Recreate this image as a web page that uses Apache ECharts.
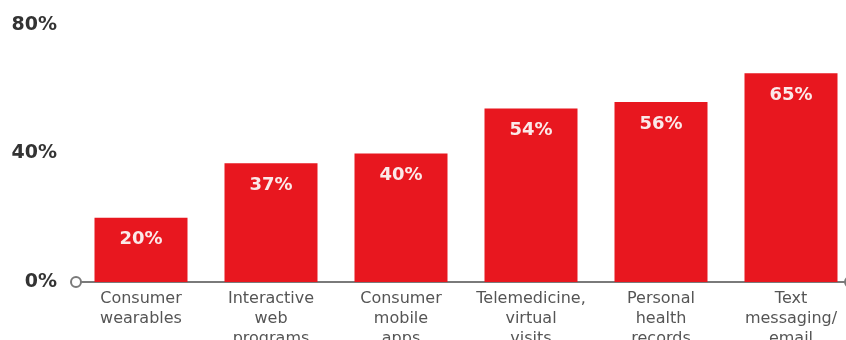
<!DOCTYPE html>
<html lang="en">
<head>
    <meta charset="UTF-8">
    <title>Chart</title>
    <script src="https://cdn.jsdelivr.net/npm/echarts@6/dist/echarts.min.js"></script>
    <style>
        body { margin: 0; background: #fff; }
    </style>
</head>
<body>
    <div id="main" style="width: 846px;height:340px;"></div>
    <script>
        let categories = ['Consumer\nwearables', 'Interactive\nweb\nprograms', 'Consumer\nmobile\napps',
            'Telemedicine,\nvirtual\nvisits', 'Personal\nhealth\nrecords', 'Text\nmessaging/\nemail']
        let values = [20, 37, 40, 54, 56, 65]
        let yTicks = [0, 40, 80]
    </script>
    <script>
        var chartDom = document.getElementById('main');
        var myChart = echarts.init(chartDom);
        var option;

        option = {
            animation: false,
            textStyle: { fontFamily: 'DejaVu Sans' },
            grid: {
                left: 76,
                top: 25,
                bottom: 58,
                width: 780,
                outerBoundsMode: 'none',
                containLabel: false
            },
            xAxis: {
                type: 'category',
                data: categories,
                axisTick: { show: false },
                axisLine: {
                    lineStyle: { color: '#7a7a7a', width: 2 },
                    symbol: ['emptyCircle', 'emptyCircle'],
                    symbolSize: [10, 10],
                    symbolOffset: [0, -6]
                },
                axisLabel: {
                    color: '#555',
                    fontSize: 16,
                    lineHeight: 20,
                    margin: 7,
                    interval: 0
                }
            },
            yAxis: {
                type: 'value',
                min: yTicks[0],
                max: yTicks[yTicks.length - 1],
                interval: yTicks[1] - yTicks[0],
                splitLine: { show: false },
                axisLine: { show: false },
                axisTick: { show: false },
                axisLabel: {
                    formatter: '{value}%',
                    color: '#333',
                    fontSize: 19,
                    fontWeight: 'bold',
                    margin: 19
                }
            },
            series: [
                {
                    type: 'bar',
                    data: values,
                    barWidth: 93,
                    itemStyle: { color: '#e8171f' },
                    label: {
                        show: true,
                        position: 'insideTop',
                        distance: 13,
                        formatter: '{c}%',
                        color: '#fbe9e9',
                        fontSize: 18,
                        fontWeight: 'bold'
                    }
                }
            ]
        };

        option && myChart.setOption(option);
    </script>
</body>
</html>
